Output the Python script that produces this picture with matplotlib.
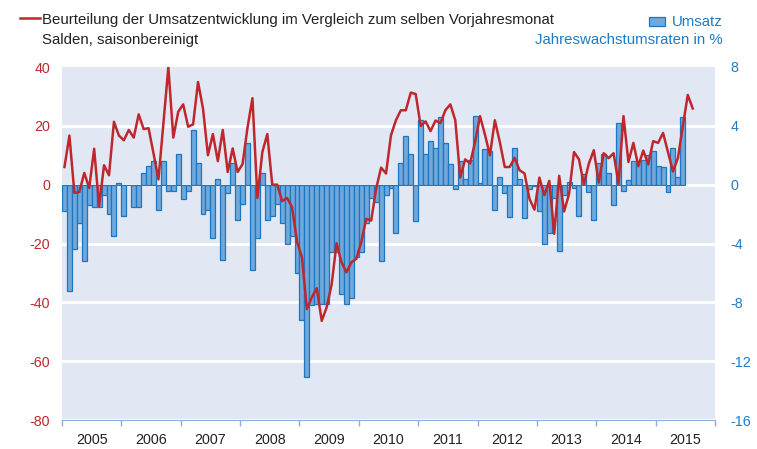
import numpy as np
import matplotlib.pyplot as plt
from matplotlib.lines import Line2D
from matplotlib.patches import Rectangle

plt.rcParams['font.family'] = ['Liberation Sans', 'DejaVu Sans']
plt.rcParams['axes.unicode_minus'] = False

years = list(range(2005, 2016))

# Umsatz, Jahreswachstumsraten in % (monthly, Jan 2005 - Jun 2015), right axis
umsatz = [
    -1.8, -7.2, -4.4, -2.6, -5.2, -1.4, -1.5, -1.5, -0.7, -2.0, -3.5, 0.1,
    -2.1, 0.0, -1.5, -1.5, 0.8, 1.3, 1.6, -1.7, 1.6, -0.4, -0.4, 2.1,
    -1.0, -0.4, 3.7, 1.5, -2.0, -1.7, -3.6, 0.4, -5.1, -0.6, 1.5, -2.4,
    -1.3, 2.8, -5.8, -3.6, 0.8, -2.4, -2.1, -1.3, -2.6, -4.0, -3.5, -6.0,
    -9.2, -13.1, -8.2, -8.1, -8.1, -8.1, -4.6, -4.6, -7.4, -8.1, -7.7, -4.9,
    -4.6, -2.6, -0.9, -1.2, -5.2, -0.7, -0.2, -3.3, 1.5, 3.3, 2.1, -2.5,
    4.4, 2.1, 3.0, 2.5, 4.6, 2.8, 1.4, -0.3, 1.6, 0.4, 1.7, 4.7,
    0.1, 2.4, 2.3, -1.7, 0.5, -0.6, -2.2, 2.5, 0.4, -2.3, -0.3, -0.1,
    -1.8, -4.0, -3.3, -0.9, -4.5, -0.7, 0.2, -0.2, -2.1, 0.7, -0.5, -2.4,
    1.5, 2.1, 0.8, -1.4, 4.2, -0.4, 0.3, 1.6, 1.6, 1.7, 2.0, 2.3,
    1.3, 1.2, -0.5, 2.5, 0.5, 4.6,
]

# Beurteilung der Umsatzentwicklung, Salden (monthly, Jan 2005 - Aug 2015), left axis
beurteilung = [
    6.0, 16.7, -2.8, -2.5, 4.0, -1.1, 12.2, -7.3, 6.6, 3.2, 21.4, 16.7,
    15.1, 18.6, 16.0, 23.9, 18.9, 19.2, 10.6, 1.8, 20.8, 39.9, 16.0, 24.8,
    27.3, 19.7, 20.5, 34.9, 25.9, 10.0, 17.2, 8.0, 18.6, 4.3, 12.3, 4.3,
    7.0, 19.4, 29.4, -4.5, 11.1, 17.2, 0.0, 0.0, -5.6, -4.5, -7.6, -19.3,
    -24.7, -42.3, -38.3, -35.2, -46.3, -41.7, -34.0, -19.9, -26.4, -29.8, -26.4, -25.2,
    -19.5, -11.6, -12.2, -1.4, 5.8, 3.8, 16.8, 21.9, 25.3, 25.3, 31.3, 30.8,
    20.0, 21.5, 18.2, 21.8, 20.9, 25.3, 27.3, 21.9, 2.4, 8.6, 7.2, 14.5,
    23.3, 17.0, 10.0, 21.9, 14.5, 6.0, 6.0, 9.1, 4.9, 3.8, -4.8, -8.5,
    2.4, -3.6, 1.3, -16.7, 3.0, -9.1, -3.1, 11.1, 8.6, 0.1, 7.2, 11.7,
    0.7, 10.7, 9.0, 10.7, 0.3, 23.3, 7.7, 14.2, 6.3, 11.6, 6.9, 14.8,
    14.2, 17.6, 11.0, 4.5, 9.0, 20.0, 30.5, 25.9,
]

red = '#C0272D'
blue = '#1E7BC4'

x_bar = np.arange(len(umsatz)) + 0.5
x_line = np.arange(len(beurteilung)) + 0.5

fig = plt.figure(figsize=(7.57, 4.49), dpi=100)
ax = fig.add_axes([62 / 757, 1 - 420 / 449, (715 - 62) / 757, (420 - 67) / 449])

# bars on the right-hand scale
ax.set_facecolor('#E1E8F4')
ax.bar(x_bar, umsatz, width=1.0, color='#6FA8DA', edgecolor='#1D77C0', linewidth=0.9, zorder=2)
ax.set_xlim(0, 12 * len(years))
ax.set_ylim(-16, 8)
ax.set_yticks(range(-16, 9, 4))
ax.grid(axis='y', color='white', linewidth=2.2)
ax.get_ygridlines()[-1].set_visible(False)
ax.set_axisbelow(True)

ax.set_xticks(range(0, 12 * len(years) + 1, 12))
ax.set_xticklabels([])
ax.set_xticks(np.arange(len(years)) * 12 + 6, minor=True)
ax.set_xticklabels([str(y) for y in years], minor=True)
ax.tick_params(axis='x', which='major', length=4, color='#8FAADC', width=1)
ax.tick_params(axis='x', which='minor', length=0, pad=9.5, labelsize=10.3, labelcolor='#222222')

for s in ['top', 'left', 'right']:
    ax.spines[s].set_visible(False)
ax.spines['bottom'].set_color('#8FAADC')

# line on the left-hand scale
ax2 = ax.twinx()
ax2.plot(x_line, beurteilung, color=red, linewidth=1.8, zorder=3)
ax2.set_ylim(-80, 40)
ax2.set_yticks(range(-80, 41, 20))
for s in ax2.spines.values():
    s.set_visible(False)

ax.yaxis.tick_right()
ax2.yaxis.tick_left()
ax.tick_params(axis='y', length=0, pad=11, labelcolor=blue, labelsize=10.3)
ax2.tick_params(axis='y', length=0, pad=8.5, labelcolor=red, labelsize=10.3)

# header / legend
fs = 10.8
fig.add_artist(Line2D([20 / 757, 40 / 757], [1 - 18.3 / 449] * 2, color=red, linewidth=1.8))
fig.text(42 / 757, 1 - 24.3 / 449, 'Beurteilung der Umsatzentwicklung im Vergleich zum selben Vorjahresmonat',
         fontsize=fs, color='#222222', va='baseline', ha='left')
fig.text(42 / 757, 1 - 44.3 / 449, 'Salden, saisonbereinigt',
         fontsize=fs, color='#222222', va='baseline', ha='left')
fig.add_artist(Rectangle((649 / 757, 1 - 25.7 / 449), 16 / 757, 9 / 449,
                         facecolor='#6FA8DA', edgecolor='#1D77C0', linewidth=0.9))
fig.text(723 / 757, 1 - 25.7 / 449, 'Umsatz', fontsize=fs, color=blue, va='baseline', ha='right')
fig.text(723 / 757, 1 - 44.3 / 449, 'Jahreswachstumsraten in %', fontsize=fs, color=blue,
         va='baseline', ha='right')

fig.savefig('out.png', dpi=100)
